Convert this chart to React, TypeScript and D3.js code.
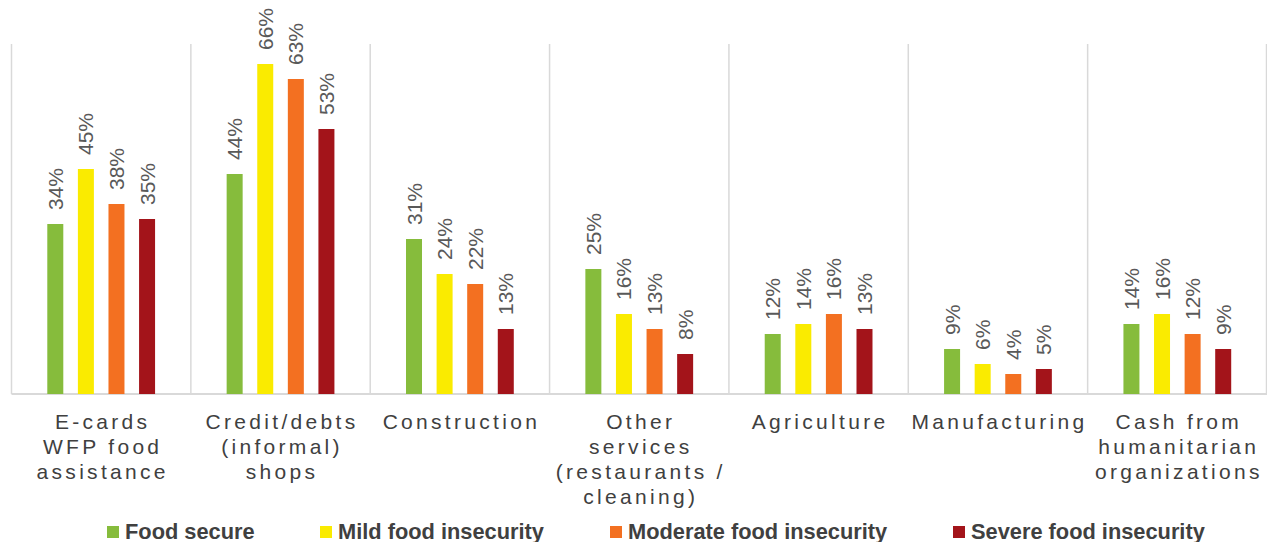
import React from "react";
import * as d3 from "d3";

const categories: string[][] = [
  ["E-cards", "WFP food", "assistance"],
  ["Credit/debts", "(informal)", "shops"],
  ["Construction"],
  ["Other", "services", "(restaurants /", "cleaning)"],
  ["Agriculture"],
  ["Manufacturing"],
  ["Cash from", "humanitarian", "organizations"],
];
const seriesNames = ["Food secure", "Mild food insecurity", "Moderate food insecurity", "Severe food insecurity"];
const foodSecure = [34, 44, 31, 25, 12, 9, 14];
const mildInsecurity = [45, 66, 24, 16, 14, 6, 16];
const moderateInsecurity = [38, 63, 22, 13, 16, 4, 12];
const severeInsecurity = [35, 53, 13, 8, 13, 5, 9];
const seriesValues = [foodSecure, mildInsecurity, moderateInsecurity, severeInsecurity];
const colors = ["#86BC3C", "#FAEB00", "#F37021", "#A3141A"];
const legendX = [107, 320, 610, 953];

const W = 1267;
const H = 542;
const left = 11.5;
const right = 1267;
const top = 44;
const baseY = 394;

export default function App() {
  const x0 = d3.scaleBand<number>().domain(d3.range(categories.length)).range([left, right]).padding(0);
  const x1 = d3
    .scaleBand<number>()
    .domain(d3.range(seriesNames.length))
    .range([0, x0.bandwidth()])
    .paddingInner(0.477)
    .paddingOuter(1.17);
  const y = d3.scaleLinear().domain([0, 70]).range([baseY, top]);
  const font = "'Liberation Sans', Arial, Helvetica, sans-serif";

  return (
    <svg width={W} height={H} style={{ position: "absolute", left: 0, top: 0, background: "#fff" }} fontFamily={font}>
      {d3.range(categories.length + 1).map((i) => {
        const xx = i < categories.length ? (x0(i) as number) : right - 0.5;
        return <line key={"s" + i} x1={xx} x2={xx} y1={top} y2={baseY} stroke="#D9D9D9" strokeWidth={1.5} />;
      })}
      <line x1={left} x2={right} y1={baseY} y2={baseY} stroke="#D9D9D9" strokeWidth={2} />
      {categories.map((cat, ci) =>
        seriesValues.map((vals, si) => {
          const v = vals[ci];
          const bx = (x0(ci) as number) + (x1(si) as number);
          const bw = x1.bandwidth();
          const by = y(v);
          const cx = bx + bw / 2;
          return (
            <g key={`b${ci}-${si}`}>
              <rect x={bx} y={by} width={bw} height={baseY - by} fill={colors[si]} />
              <text
                transform={`translate(${cx},${by - 14}) rotate(-90)`}
                dominantBaseline="central"
                fontSize={21}
                fill="#595959"
              >
                {v}%
              </text>
            </g>
          );
        })
      )}
      {categories.map((lines, ci) => {
        const cx = (x0(ci) as number) + x0.bandwidth() / 2 + 1.5;
        return (
          <text key={"c" + ci} textAnchor="middle" fontSize={21} fill="#404040" letterSpacing={3.3}>
            {lines.map((ln, li) => (
              <tspan key={li} x={cx} y={429 + li * 25}>
                {ln}
              </tspan>
            ))}
          </text>
        );
      })}
      {seriesNames.map((s, si) => (
        <g key={"l" + si}>
          <rect x={legendX[si]} y={526} width={12} height={12} fill={colors[si]} />
          <text x={legendX[si] + 18} y={538.5} fontSize={21.8} fontWeight="bold" fill="#404040">
            {s}
          </text>
        </g>
      ))}
    </svg>
  );
}
